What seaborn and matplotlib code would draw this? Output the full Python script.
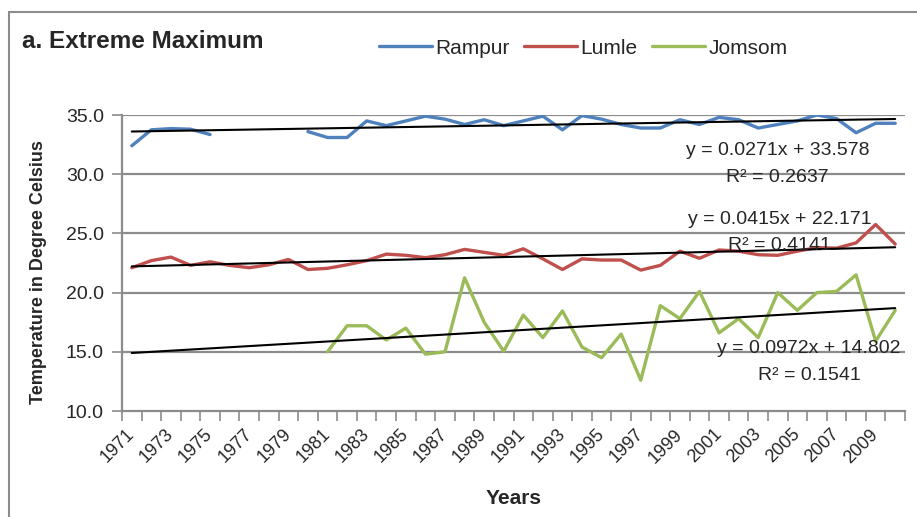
import numpy as np
import pandas as pd
import matplotlib
matplotlib.use("Agg")
import matplotlib.pyplot as plt
import seaborn as sns
from matplotlib import font_manager
from matplotlib.lines import Line2D

nan = np.nan

years = list(range(1971, 2011))
stations = ["Rampur", "Lumle", "Jomsom"]
colors = ["#4F81BD", "#C0504D", "#9BBB59"]

rampur = [32.4, 33.75, 33.85, 33.8, 33.35, nan, nan, nan, nan, 33.6,
          33.1, 33.1, 34.5, 34.1, 34.5, 34.9, 34.65, 34.2, 34.6, 34.1,
          34.5, 34.9, 33.75, 34.95, 34.65, 34.2, 33.9, 33.9, 34.6, 34.2,
          34.8, 34.6, 33.9, 34.2, 34.5, 35.0, 34.7, 33.5, 34.3, 34.3]
lumle = [22.1, 22.7, 23.0, 22.3, 22.6, 22.3, 22.1, 22.35, 22.8, 21.95,
         22.05, 22.35, 22.7, 23.25, 23.15, 22.95, 23.2, 23.65, 23.4, 23.15,
         23.7, 22.85, 21.95, 22.85, 22.75, 22.75, 21.9, 22.3, 23.5, 22.9,
         23.6, 23.5, 23.2, 23.15, 23.5, 23.8, 23.75, 24.2, 25.75, 24.1]
jomsom = [nan] * 10 + [
         15.0, 17.2, 17.2, 16.0, 17.0, 14.8, 15.0, 21.25, 17.5, 15.05,
         18.1, 16.2, 18.45, 15.4, 14.5, 16.5, 12.6, 18.9, 17.8, 20.1,
         16.6, 17.8, 16.2, 20.0, 18.5, 20.0, 20.1, 21.5, 15.9, 18.5]

# linear trend coefficients (x = 1..40) and R² for each station
trend_slope = [0.0271, 0.0415, 0.0972]
trend_icpt = [33.578, 22.171, 14.802]
trend_r2 = ["0.2637", "0.4141", "0.1541"]

y_ticks = [10.0, 15.0, 20.0, 25.0, 30.0, 35.0]
tick_years = years[::2]


def pick_font(names):
    avail = {f.name for f in font_manager.fontManager.ttflist}
    return [n for n in names if n in avail] + ["DejaVu Sans"]


FONT = pick_font(["Liberation Sans Narrow", "Liberation Sans", "Arial"])

sns.set_theme(style="white")
plt.rcParams["font.family"] = FONT

# long table; gaps in a series split it into separate segments
frames = []
for name, vals in zip(stations, [rampur, lumle, jomsom]):
    d = pd.DataFrame({"idx": np.arange(len(years)), "year": years,
                      "temp": vals, "station": name})
    d["seg"] = d["temp"].isna().cumsum()
    d = d.dropna(subset=["temp"])
    d["unit"] = name + "_" + d["seg"].astype(str)
    frames.append(d)
df = pd.concat(frames, ignore_index=True)

W, H = 917, 517
fig = plt.figure(figsize=(W / 100, H / 100), dpi=100)
ax = fig.add_axes([122 / W, 1 - 411 / H, (905 - 122) / W, (411 - 115) / H])

grid_c = "#8C8C8C"
for v in y_ticks[1:]:
    ax.axhline(v, color=grid_c, lw=1.6, zorder=0)

sns.lineplot(data=df, x="idx", y="temp", hue="station", units="unit",
             estimator=None, palette=dict(zip(stations, colors)),
             hue_order=stations, lw=2.4, ax=ax, legend=False, zorder=3)

# trend lines drawn from the stated equations
xi = np.arange(1, len(years) + 1)
for a, b in zip(trend_slope, trend_icpt):
    ax.plot(xi - 1, a * xi + b, color="black", lw=1.5, zorder=4)

ax.set_xlim(-0.5, len(years) - 0.5)
ax.set_ylim(10, 35)
ax.set_yticks(y_ticks)
ax.set_yticklabels([f"{v:.1f}" for v in y_ticks], fontsize=14)

ax.set_xticks(np.arange(-0.5, len(years), 1))
ax.set_xticklabels([])
ax.set_xticks([years.index(y) for y in tick_years], minor=True)
ax.set_xticklabels([str(y) for y in tick_years], minor=True, rotation=45,
                   ha="right", va="center", rotation_mode="anchor", fontsize=13)
ax.tick_params(axis="x", which="major", direction="out", length=7,
               color=grid_c, width=1.2, bottom=True)
ax.tick_params(axis="x", which="minor", length=0, pad=15)
ax.tick_params(axis="y", direction="out", length=7, color=grid_c, width=1.2,
               left=True, pad=6)

for s in ["top", "right"]:
    ax.spines[s].set_visible(False)
for s in ["left", "bottom"]:
    ax.spines[s].set_color(grid_c)
    ax.spines[s].set_linewidth(1.6)

ax.set_xlabel("Years", fontsize=15, fontweight="bold", labelpad=16)
ax.set_ylabel("Temperature in Degree Celsius", fontsize=13, fontweight="bold")
ax.yaxis.set_label_coords(-0.096, 0.47)

# trend equations
eq_pos = [(33.0, 31.96, 29.76), (33.1, 26.2, 24.0), (34.6, 15.32, 13.04)]
for (xc, y1, y2), a, b, r2 in zip(eq_pos, trend_slope, trend_icpt, trend_r2):
    ax.text(xc, y1, f"y = {a}x + {b}", ha="center", va="center",
            fontsize=14, zorder=5)
    ax.text(xc, y2, f"R² = {r2}", ha="center", va="center",
            fontsize=14, zorder=5)

fig.text(22 / W, 1 - 42 / H, "a. Extreme Maximum", ha="left", va="center",
         fontsize=17.5, fontweight="bold")

handles = [Line2D([], [], color=c, lw=2.4) for c in colors]
fig.legend(handles, stations, loc="center", bbox_to_anchor=(583 / W, 1 - 48 / H),
           ncol=3, frameon=False, fontsize=15, handlelength=2.55,
           handletextpad=0.15, columnspacing=0.7)

# chart area border
fig.add_artist(Line2D([9 / W, 1.0], [1 - 12 / H, 1 - 12 / H], color="#8C8C8C", lw=1.5))
fig.add_artist(Line2D([9 / W, 9 / W], [0.0, 1 - 12 / H], color="#8C8C8C", lw=1.5))

fig.savefig("out.png", dpi=100)
